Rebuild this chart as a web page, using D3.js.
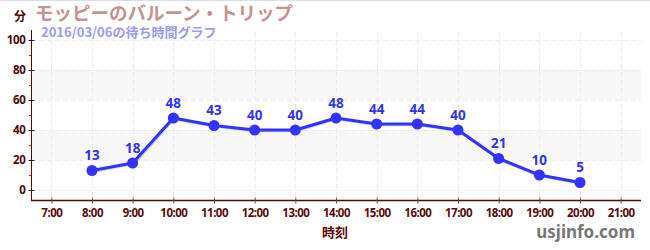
<!DOCTYPE html>
<html>
<head>
<meta charset="utf-8">
<script src="https://cdn.jsdelivr.net/npm/d3@7"></script>
<style>
  body { margin: 0; background: #fff; }
  svg { display: block; }
</style>
</head>
<body>
<div id="chart"></div>
<script>
// データ
const hours = [8, 9, 10, 11, 12, 13, 14, 15, 16, 17, 18, 19, 20];
const waits = [13, 18, 48, 43, 40, 40, 48, 44, 44, 40, 21, 10, 5];
const xTicks = [7, 8, 9, 10, 11, 12, 13, 14, 15, 16, 17, 18, 19, 20, 21];
const yTicks = [0, 20, 40, 60, 80, 100];
const yMinor = [10, 30, 50, 70, 90];
const bands = [[20, 40], [60, 80]];

const width = 650, height = 250;
const margin = {top: 30, right: 9, bottom: 50, left: 31};

const svg = d3.select("#chart").append("svg")
  .attr("width", width)
  .attr("height", height);

const x = d3.scaleLinear()
  .domain([6.5, 21.5])
  .range([margin.left, width - margin.right]);

const y = d3.scaleLinear()
  .domain([-6.667, 106.667])
  .range([height - margin.bottom, margin.top]);

// 上の枠線
svg.append("line")
  .attr("x1", 0).attr("x2", width)
  .attr("y1", 0.5).attr("y2", 0.5)
  .attr("stroke", "#dcdcf6");

// 帯
svg.append("g")
  .selectAll("rect")
  .data(bands)
  .join("rect")
  .attr("x", margin.left)
  .attr("width", width - margin.right - margin.left)
  .attr("y", d => y(d[1]))
  .attr("height", d => y(d[0]) - y(d[1]))
  .attr("fill", "#f7f7f7");

// グリッド
svg.append("g")
  .selectAll("line")
  .data(yTicks)
  .join("line")
  .attr("x1", margin.left).attr("x2", width - margin.right)
  .attr("y1", d => Math.round(y(d)) + 0.5)
  .attr("y2", d => Math.round(y(d)) + 0.5)
  .attr("stroke", "#ececec")
  .attr("stroke-dasharray", "5,3");

svg.append("g")
  .selectAll("line")
  .data(xTicks)
  .join("line")
  .attr("x1", d => Math.round(x(d)) + 0.5)
  .attr("x2", d => Math.round(x(d)) + 0.5)
  .attr("y1", margin.top + 2)
  .attr("y2", height - margin.bottom)
  .attr("stroke", "#ececec")
  .attr("stroke-dasharray", "5,3");

// Y軸
const yAxis = svg.append("g")
  .attr("transform", `translate(${margin.left + 0.5},0)`)
  .call(d3.axisLeft(y).tickValues(yTicks).tickSize(3).tickPadding(3));
yAxis.select(".domain")
  .attr("d", `M0,${margin.top}V${height - margin.bottom}`)
  .attr("stroke", "#660000");
yAxis.selectAll(".tick line").attr("x2", -3).attr("x1", 3).attr("stroke", "#222");
yAxis.selectAll(".tick text")
  .attr("fill", "#4a0a0a")
  .attr("font-family", "'Noto Sans', sans-serif")
  .attr("font-weight", "bold")
  .attr("font-size", 11.5)
  .attr("letter-spacing", -0.3);

svg.append("g")
  .selectAll("line")
  .data(yMinor)
  .join("line")
  .attr("x1", margin.left - 2).attr("x2", margin.left)
  .attr("y1", d => Math.round(y(d)) + 0.5)
  .attr("y2", d => Math.round(y(d)) + 0.5)
  .attr("stroke", "#dd2222");

// X軸
const xAxis = svg.append("g")
  .attr("transform", `translate(0,${height - margin.bottom + 0.5})`)
  .call(d3.axisBottom(x).tickValues(xTicks).tickFormat(d => d + ":00").tickSize(3).tickPadding(5));
xAxis.select(".domain")
  .attr("d", `M${margin.left},0H${width - margin.right}`)
  .attr("stroke", "#660000")
  .attr("stroke-width", 1.5);
xAxis.selectAll(".tick line").attr("y1", -3).attr("y2", 3).attr("stroke", "#555");
xAxis.selectAll(".tick text")
  .attr("fill", "#5a0a0a")
  .attr("font-family", "'Noto Sans', sans-serif")
  .attr("font-weight", "bold")
  .attr("font-size", 11.5)
  .attr("letter-spacing", -0.5);

// 折れ線
const line = d3.line()
  .x((d, i) => x(hours[i]))
  .y(d => y(d));

svg.append("path")
  .datum(waits)
  .attr("fill", "none")
  .attr("stroke", "#2a2ae0")
  .attr("stroke-width", 3)
  .attr("transform", "translate(0.8,0.8)")
  .attr("opacity", 0.25)
  .attr("d", line);

svg.append("path")
  .datum(waits)
  .attr("fill", "none")
  .attr("stroke", "#3333ff")
  .attr("stroke-width", 3)
  .attr("stroke-linejoin", "round")
  .attr("d", line);

svg.append("g")
  .selectAll("circle")
  .data(waits)
  .join("circle")
  .attr("cx", (d, i) => x(hours[i]))
  .attr("cy", d => y(d))
  .attr("r", 5.5)
  .attr("fill", "#3333ff");

svg.append("g")
  .selectAll("text")
  .data(waits)
  .join("text")
  .attr("x", (d, i) => x(hours[i]))
  .attr("y", d => y(d) - 10)
  .attr("text-anchor", "middle")
  .attr("font-family", "'Noto Sans', sans-serif")
  .attr("font-weight", "bold")
  .attr("font-size", 13.5)
  .attr("fill", "#3333ee")
  .text(d => d);

// テキスト
svg.append("text")
  .attr("x", 35).attr("y", 20)
  .attr("font-family", "'Noto Sans CJK JP', sans-serif")
  .attr("font-weight", "bold")
  .attr("font-size", 18.5)
  .attr("fill", "#c59292")
  .text("モッピーのバルーン・トリップ");

svg.append("text")
  .attr("x", 41).attr("y", 37)
  .attr("font-family", "'Noto Sans CJK JP', sans-serif")
  .attr("font-weight", "bold")
  .attr("font-size", 13)
  .attr("fill", "#9a9af5")
  .text("2016/03/06の待ち時間グラフ");

svg.append("text")
  .attr("x", 14).attr("y", 21)
  .attr("font-family", "'Noto Sans CJK JP', sans-serif")
  .attr("font-weight", "bold")
  .attr("font-size", 12)
  .attr("fill", "#4a0a0a")
  .text("分");

svg.append("text")
  .attr("x", 335).attr("y", 237)
  .attr("text-anchor", "middle")
  .attr("font-family", "'Noto Sans CJK JP', sans-serif")
  .attr("font-weight", "bold")
  .attr("font-size", 13)
  .attr("fill", "#5a0a0a")
  .text("時刻");

svg.append("text")
  .attr("x", 635).attr("y", 238)
  .attr("text-anchor", "end")
  .attr("font-family", "'Noto Sans', sans-serif")
  .attr("font-weight", "bold")
  .attr("font-size", 17)
  .attr("fill", "#777")
  .text("usjinfo.com");
</script>
</body>
</html>
